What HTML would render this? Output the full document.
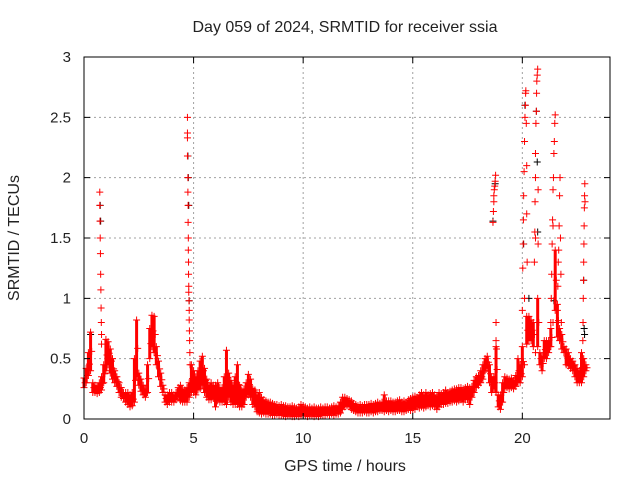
<!DOCTYPE html>
<html><head><meta charset="utf-8"><style>
body{margin:0;background:#fff;}
svg text{font-family:"Liberation Sans",sans-serif;fill:#222;}
</style></head><body>
<svg id="chart" width="640" height="480" xmlns="http://www.w3.org/2000/svg">
<rect width="640" height="480" fill="#fff"/>
<text x="345" y="32" font-size="16" text-anchor="middle">Day 059 of 2024, SRMTID for receiver ssia</text>
<text x="345" y="471" font-size="16" text-anchor="middle">GPS time / hours</text>
<text transform="translate(19,238) rotate(-90)" font-size="16" text-anchor="middle">SRMTID / TECUs</text>
<g id="grid"></g><g id="marks"></g><g id="axes"></g>
</svg>
<script>
const xTicks=[0,5,10,15,20];
const yTicks=[0,0.5,1,1.5,2,2.5,3];
const yTickLabels=["0","0.5","1","1.5","2","2.5","3"];
const baseT=[0,0.1,0.2,0.3,0.4,0.5,0.6,0.7,0.8,0.9,
1,1.1,1.2,1.3,1.4,1.5,1.6,1.7,1.8,1.9,
2,2.1,2.2,2.3,2.4,2.5,2.6,2.7,2.8,2.9,
3,3.1,3.2,3.3,3.4,3.5,3.6,3.7,3.8,3.9,
4,4.1,4.2,4.3,4.4,4.5,4.6,4.7,4.8,4.9,
5,5.1,5.2,5.3,5.4,5.5,5.6,5.7,5.8,5.9,
6,6.1,6.2,6.3,6.4,6.5,6.6,6.7,6.8,6.9,
7,7.1,7.2,7.3,7.4,7.5,7.6,7.7,7.8,7.9,
8,8.1,8.2,8.3,8.4,8.5,8.6,8.7,8.8,8.9,
9,9.1,9.2,9.3,9.4,9.5,9.6,9.7,9.8,9.9,
10,10.1,10.2,10.3,10.4,10.5,10.6,10.7,10.8,10.9,
11,11.1,11.2,11.3,11.4,11.5,11.6,11.7,11.8,11.9,
12,12.1,12.2,12.3,12.4,12.5,12.6,12.7,12.8,12.9,
13,13.1,13.2,13.3,13.4,13.5,13.6,13.7,13.8,13.9,
14,14.1,14.2,14.3,14.4,14.5,14.6,14.7,14.8,14.9,
15,15.1,15.2,15.3,15.4,15.5,15.6,15.7,15.8,15.9,
16,16.1,16.2,16.3,16.4,16.5,16.6,16.7,16.8,16.9,
17,17.1,17.2,17.3,17.4,17.5,17.6,17.7,17.8,17.9,
18,18.1,18.2,18.3,18.4,18.5,18.6,18.7,18.8,18.9,
19,19.1,19.2,19.3,19.4,19.5,19.6,19.7,19.8,19.9,
20,20.1,20.2,20.3,20.4,20.5,20.6,20.7,20.8,20.9,
21,21.1,21.2,21.3,21.4,21.5,21.6,21.7,21.8,21.9,
22,22.1,22.2,22.3,22.4,22.5,22.6,22.7,22.8,22.9];
const baseLo=[.26,.30,.36,.40,.22,.22,.21,.22,.24,.30,
.40,.45,.38,.33,.30,.27,.22,.18,.17,.14,
.12,.10,.11,.14,.35,.28,.23,.20,.18,.22,
.50,.60,.55,.45,.35,.27,.22,.14,.12,.14,
.14,.14,.16,.18,.15,.14,.14,.14,.18,.22,
.22,.20,.24,.25,.28,.22,.18,.16,.16,.17,
.10,.15,.14,.14,.14,.12,.18,.14,.12,.12,
.12,.10,.10,.12,.18,.20,.18,.12,.10,.06,
.05,.04,.05,.04,.04,.04,.03,.03,.04,.03,
.03,.03,.02,.03,.03,.02,.02,.03,.02,.03,
.03,.03,.02,.03,.03,.02,.03,.02,.03,.03,
.03,.04,.03,.04,.03,.04,.04,.05,.08,.10,
.11,.10,.08,.07,.06,.05,.05,.05,.06,.05,
.05,.06,.05,.06,.06,.07,.07,.06,.07,.06,
.07,.06,.06,.07,.07,.06,.06,.07,.08,.07,
.08,.08,.10,.09,.10,.09,.10,.11,.10,.11,
.10,.08,.10,.12,.12,.13,.13,.14,.14,.15,
.14,.15,.16,.14,.16,.16,.12,.18,.22,.26,
.28,.30,.33,.40,.42,.30,.22,.25,.22,.10,
.08,.14,.25,.26,.25,.26,.25,.27,.30,.30,
.35,.45,.62,.65,.65,.60,.55,.60,.45,.40,
.50,.50,.55,.60,.80,.90,.68,.65,.58,.55,
.45,.44,.42,.40,.35,.30,.30,.30,.35,.40];
const baseHi=[.34,.42,.55,.72,.30,.28,.27,.30,.35,.45,
.66,.64,.58,.50,.40,.35,.30,.26,.22,.22,
.22,.20,.22,.50,.82,.38,.33,.28,.25,.45,
.75,.86,.85,.60,.48,.38,.28,.20,.20,.22,
.22,.20,.22,.26,.28,.25,.24,.26,.30,.45,
.40,.35,.40,.48,.52,.42,.33,.28,.30,.28,
.28,.30,.26,.26,.35,.57,.38,.32,.28,.35,
.45,.28,.24,.25,.30,.37,.33,.25,.24,.20,
.22,.18,.16,.15,.14,.14,.13,.12,.12,.11,
.12,.11,.11,.10,.10,.11,.10,.09,.10,.12,
.11,.10,.09,.10,.09,.10,.09,.09,.10,.09,
.10,.10,.09,.10,.11,.10,.11,.14,.18,.18,
.17,.16,.15,.13,.12,.11,.12,.11,.12,.12,
.12,.13,.12,.13,.14,.13,.14,.20,.15,.15,
.15,.14,.14,.15,.16,.14,.15,.14,.16,.17,
.18,.19,.18,.20,.22,.20,.22,.20,.21,.22,
.20,.19,.22,.21,.22,.24,.22,.23,.24,.25,
.25,.26,.26,.25,.26,.27,.26,.27,.32,.35,
.36,.40,.45,.50,.52,.45,.35,.35,.60,.20,
.20,.30,.35,.34,.33,.34,.32,.36,.50,.45,
.60,1.0,.85,.85,.82,.80,1.5,1.0,.55,.52,
.65,.65,.65,.75,1.6,1.4,.95,.75,.70,.60,
.58,.55,.50,.48,.45,.42,.40,.55,.50,.45];
const spikeT=[0.72,0.72,0.73,0.74,0.75,0.76,0.77,0.78,0.79,0.8,0.8,
4.72,4.72,4.72,4.72,4.74,4.74,4.75,4.75,4.76,4.76,4.77,4.77,4.78,4.78,4.79,4.8,4.8,4.81,4.82,4.83,4.84,
18.66,18.68,18.7,18.7,18.72,18.74,18.76,18.78,18.8,18.8,18.82,18.82,
20.0,20.02,20.04,20.05,20.06,20.08,20.1,20.12,20.14,20.15,20.16,20.18,20.2,20.2,20.22,
20.55,20.57,20.58,20.6,20.6,20.62,20.64,20.65,20.66,20.68,20.7,20.72,20.72,
21.3,21.32,21.34,21.36,21.38,21.4,21.42,21.44,21.46,21.48,21.5,
21.6,21.62,21.64,21.66,21.68,21.7,21.72,21.74,21.76,21.78,
22.75,22.76,22.77,22.78,22.79,22.8,22.81,22.82,22.83,22.84,22.85,22.86];
const spikeV=[1.88,1.77,1.64,1.5,1.37,1.2,1.07,0.92,0.8,0.7,0.62,
2.5,2.37,2.33,2.18,2.0,1.88,1.77,1.63,1.5,1.4,1.3,1.2,1.1,1.05,0.98,0.9,0.82,0.73,0.65,0.55,0.45,
1.63,1.72,1.8,1.85,1.9,1.93,1.97,2.02,0.8,0.65,0.58,0.5,
0.9,1.25,1.45,1.65,1.85,2.05,2.3,2.5,2.6,2.7,2.72,2.45,2.1,1.7,1.3,
1.3,1.55,1.8,2.0,2.2,2.45,2.55,2.7,2.8,2.85,2.9,1.9,1.45,
0.8,1.0,1.2,1.45,1.65,1.9,2.0,2.2,2.3,2.45,2.52,
0.9,1.1,1.3,1.4,1.6,1.85,2.0,1.5,1.2,0.8,
0.5,0.65,0.8,1.0,1.15,1.3,1.45,1.6,1.75,1.85,1.95,1.8];
const blackT=[0.74,0.76,0.3,4.74,4.76,4.78,4.8,18.66,18.76,20.12,20.06,20.3,20.64,20.68,20.7,21.44,22.8,22.84,22.82];
const blackV=[1.77,1.64,0.7,2.18,2.0,1.77,0.98,1.64,1.95,2.6,1.45,1.0,2.55,2.13,1.55,0.98,1.15,0.7,0.75];

const X0=84,X1=610,Y0=419,Y1=57;
const xs=t=>X0+(t/24)*(X1-X0);
const ys=v=>Y0-(v/3)*(Y0-Y1);
const NS="http://www.w3.org/2000/svg";
function mk(tag,attrs,parent){const e=document.createElementNS(NS,tag);for(const k in attrs)e.setAttribute(k,attrs[k]);parent.appendChild(e);return e;}
const grid=document.getElementById('grid'),marks=document.getElementById('marks'),axes=document.getElementById('axes');
xTicks.forEach(t=>{
  if(t>0){const g=mk('line',{x1:xs(t),x2:xs(t),y1:Y1,y2:Y0,stroke:'#a0a0a0','stroke-dasharray':'2,3'},grid);
  
  }
  const tk=mk('path',{d:`M${xs(t)},${Y0}v-6M${xs(t)},${Y1}v6`,stroke:'#000'},axes);
  
  
  const lb=mk('text',{x:xs(t),y:443,'font-size':15,'text-anchor':'middle'},axes);lb.textContent=t;
  
  
});
yTicks.forEach((v,i)=>{
  if(v>0&&v<3){const g=mk('line',{x1:X0,x2:X1,y1:ys(v),y2:ys(v),stroke:'#a0a0a0','stroke-dasharray':'2,3'},grid);
  
  }
  const tk=mk('path',{d:`M${X0},${ys(v)}h6M${X1},${ys(v)}h-6`,stroke:'#000'},axes);
  
  
  const lb=mk('text',{x:71,y:ys(v)+5,'font-size':15,'text-anchor':'end'},axes);lb.textContent=yTickLabels[i];
  
  
});
const frame=mk('rect',{x:X0,y:Y1,width:X1-X0,height:Y0-Y1,fill:'none',stroke:'#000'},axes);


function cross(t,v,col,name){
  const x=xs(t),y=ys(v);
  const p=mk('path',{d:`M${x-3.5},${y}h7M${x},${y-3.5}v7`,stroke:col,'stroke-width':1},marks);
  
  
}
blackT.forEach((t,i)=>cross(t,blackV[i],'#000','black-point'));
baseT.forEach((t,i)=>{
  if(baseHi[i]-baseLo[i]<0.5){
    const r=mk('line',{x1:xs(t),x2:xs(t),y1:ys(baseLo[i]),y2:ys(baseHi[i]),stroke:'#f00','stroke-width':3},marks);
    
    
    cross(t+0.05,(baseLo[i]+baseHi[i])/2,'#f00','srmtid-point');
  }
  cross(t,baseLo[i],'#f00','srmtid-point');
  cross(t,baseHi[i],'#f00','srmtid-point');
});
spikeT.forEach((t,i)=>cross(t,spikeV[i],'#f00','srmtid-spike-point'));
</script>
</body></html>
